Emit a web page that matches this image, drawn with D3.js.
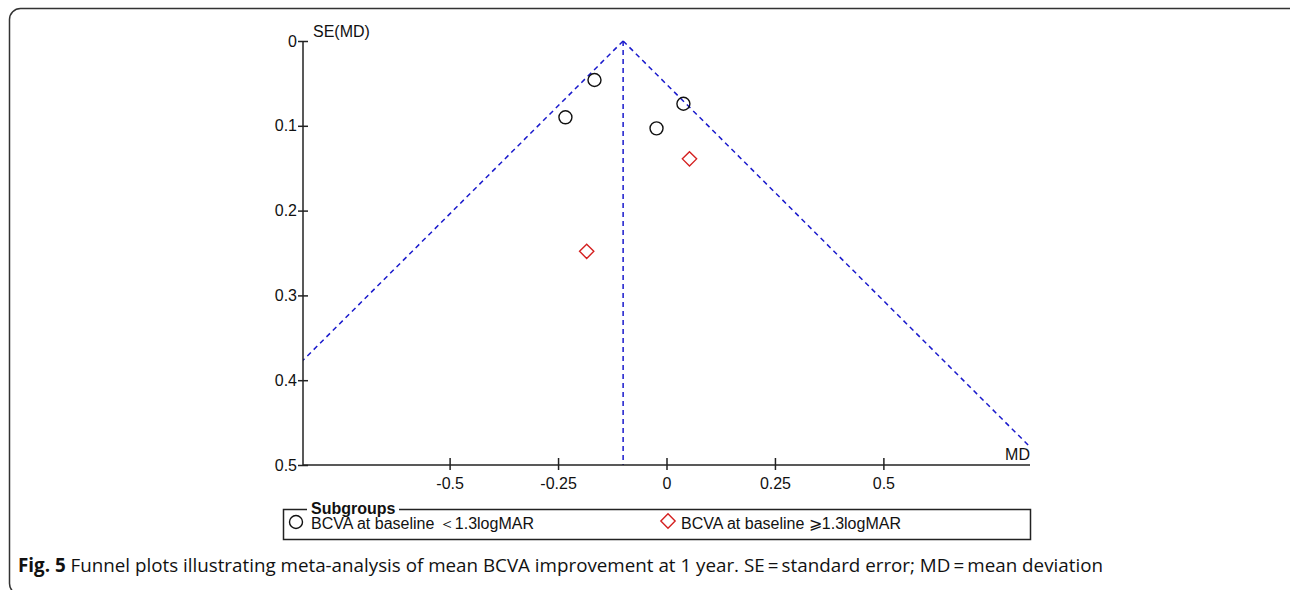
<!DOCTYPE html>
<html>
<head>
<meta charset="utf-8">
<script src="https://cdn.jsdelivr.net/npm/d3@7"></script>
<style>
  body { margin: 0; background: #fff; }
  svg { display: block; }
</style>
</head>
<body>
<div id="chart"></div>
<script>
// studies, BCVA at baseline < 1.3 logMAR
const mdLow = [-0.166, -0.233, -0.023, 0.039];
const seLow = [0.046, 0.090, 0.103, 0.074];
// studies, BCVA at baseline >= 1.3 logMAR
const mdHigh = [0.053, -0.184];
const seHigh = [0.139, 0.248];
const pooledMD = -0.1;
const xTicks = [-0.5, -0.25, 0, 0.25, 0.5];
const yTicks = [0, 0.1, 0.2, 0.3, 0.4, 0.5];
const legendLabels = ['BCVA at baseline \uFF1C1.3logMAR', 'BCVA at baseline \u2A7E1.3logMAR'];

(function () {
    let width = 1290, height = 590;
    let plotLeft = 303, plotRight = 1030, plotTop = 41, plotBottom = 465;
    let font = 'Liberation Sans, Arial, sans-serif';
    let fs = 16;

    let svg = d3.select('#chart').append('svg')
        .attr('width', width)
        .attr('height', height);

    // figure frame (rounded corners just visible at the edges)
    svg.append('rect')
        .attr('x', 9.5).attr('y', 8.5)
        .attr('width', 1290).attr('height', 586)
        .attr('rx', 11)
        .attr('fill', 'none')
        .attr('stroke', '#333')
        .attr('stroke-width', 1.5);

    let x = d3.scaleLinear().domain([-0.838, 0.838]).range([plotLeft, plotRight]);
    let y = d3.scaleLinear().domain([0, 0.5]).range([plotTop, plotBottom]);

    svg.append('clipPath').attr('id', 'plot-clip')
        .append('rect')
        .attr('x', plotLeft).attr('y', plotTop - 5)
        .attr('width', plotRight - plotLeft).attr('height', plotBottom - plotTop + 5);

    let plot = svg.append('g').attr('clip-path', 'url(#plot-clip)');

    // funnel: 95% pseudo-CI lines and pooled estimate
    let funnel = [
        [[pooledMD, 0], [pooledMD - 1.96 * 0.5, 0.5]],
        [[pooledMD, 0], [pooledMD + 1.96 * 0.5, 0.5]],
        [[pooledMD, 0], [pooledMD, 0.5]]
    ];
    let line = d3.line().x(d => x(d[0])).y(d => y(d[1]));
    plot.selectAll('path.funnel').data(funnel).enter().append('path')
        .attr('class', 'funnel')
        .attr('d', line)
        .attr('fill', 'none')
        .attr('stroke', '#1a1acc')
        .attr('stroke-width', 1.5)
        .attr('stroke-dasharray', '5,4');

    // y axis
    let yAxis = svg.append('g')
        .attr('transform', `translate(${plotLeft},0)`)
        .call(d3.axisLeft(y).tickValues(yTicks).tickFormat(d => String(d)).tickSize(5));
    yAxis.attr('font-size', fs).attr('font-family', font);
    yAxis.select('.domain').remove();
    yAxis.append('line').attr('x1', 0).attr('x2', 0).attr('y1', plotTop).attr('y2', plotBottom)
        .attr('stroke', '#222').attr('stroke-width', 1.5);
    yAxis.selectAll('.tick line').attr('x1', 5).attr('x2', -5).attr('stroke', '#222').attr('stroke-width', 1.5);
    yAxis.selectAll('.tick text').attr('x', -6).attr('fill', '#111');

    // x axis
    let xAxis = svg.append('g')
        .attr('transform', `translate(0,${plotBottom})`)
        .call(d3.axisBottom(x).tickValues(xTicks).tickFormat(d => String(d)).tickSize(5).tickPadding(8));
    xAxis.attr('font-size', fs).attr('font-family', font);
    xAxis.select('.domain').remove();
    xAxis.append('line').attr('x1', plotLeft).attr('x2', plotRight).attr('y1', 0).attr('y2', 0)
        .attr('stroke', '#222').attr('stroke-width', 1.5);
    xAxis.selectAll('.tick line').attr('y1', -7).attr('y2', 5).attr('stroke', '#222').attr('stroke-width', 1.5);
    xAxis.selectAll('.tick text').attr('fill', '#111');

    svg.append('text').attr('x', plotLeft + 10).attr('y', plotTop - 4)
        .attr('font-size', fs).attr('font-family', font).attr('fill', '#111')
        .text('SE(MD)');
    svg.append('text').attr('x', plotRight).attr('y', plotBottom - 5)
        .attr('text-anchor', 'end')
        .attr('font-size', fs).attr('font-family', font).attr('fill', '#111')
        .text('MD');

    // study points
    let lowPts = mdLow.map((d, i) => ({ md: d, se: seLow[i] }));
    let highPts = mdHigh.map((d, i) => ({ md: d, se: seHigh[i] }));

    svg.selectAll('circle.low').data(lowPts).enter().append('circle')
        .attr('class', 'low')
        .attr('cx', d => x(d.md))
        .attr('cy', d => y(d.se))
        .attr('r', 6.5)
        .attr('fill', 'none')
        .attr('stroke', '#111')
        .attr('stroke-width', 1.4);

    let diamond = d3.symbol().type(d3.symbolDiamond2).size(130);
    svg.selectAll('path.high').data(highPts).enter().append('path')
        .attr('class', 'high')
        .attr('d', diamond)
        .attr('transform', d => `translate(${x(d.md)},${y(d.se)})`)
        .attr('fill', 'none')
        .attr('stroke', '#d42020')
        .attr('stroke-width', 1.4);

    // legend
    let legend = svg.append('g').attr('font-family', font).attr('font-size', fs).attr('fill', '#111');
    legend.append('path')
        .attr('d', 'M307,509.5 H283.5 V539.5 H1030.5 V509.5 H399')
        .attr('fill', 'none')
        .attr('stroke', '#222')
        .attr('stroke-width', 1.5);
    legend.append('text').attr('x', 311).attr('y', 514)
        .attr('font-weight', 'bold')
        .text('Subgroups');
    legend.append('circle').attr('cx', 296).attr('cy', 522).attr('r', 6.5)
        .attr('fill', 'none').attr('stroke', '#111').attr('stroke-width', 1.4);
    legend.append('text').attr('x', 311).attr('y', 529)
        .text(legendLabels[0]);
    legend.append('path').attr('d', diamond)
        .attr('transform', 'translate(668,521)')
        .attr('fill', 'none').attr('stroke', '#d42020').attr('stroke-width', 1.4);
    legend.append('text').attr('x', 681).attr('y', 529)
        .text(legendLabels[1]);

    // caption
    let caption = svg.append('text').attr('x', 18).attr('y', 572)
        .attr('font-size', 18.8).attr('font-family', 'Open Sans, sans-serif').attr('fill', '#111');
    caption.append('tspan').attr('font-weight', 'bold').text('Fig. 5');
    caption.append('tspan')
        .text(' Funnel plots illustrating meta-analysis of mean BCVA improvement at 1 year. SE\u2009=\u2009standard error; MD\u2009=\u2009mean deviation');
})();
</script>
</body>
</html>
